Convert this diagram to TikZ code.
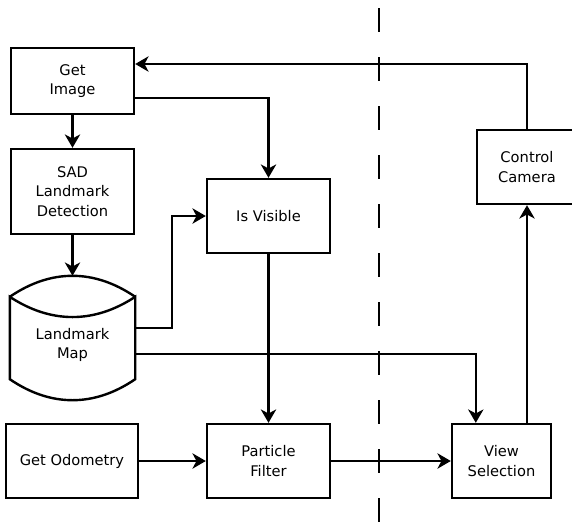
\documentclass[tikz,border=0pt]{standalone}
\usepackage{fontspec}
\setmainfont{DejaVu Sans}
\usetikzlibrary{arrows.meta,calc}

\begin{document}
\begin{tikzpicture}[x=0.75pt,y=-0.75pt,line width=1.8pt,
  box/.style={draw,inner sep=0pt,align=center,font=\fontsize{11}{14.5}\selectfont},
  flow/.style={-{Stealth[length=10pt,width=11.5pt,inset=3pt]}}]
\useasboundingbox (0,0) rectangle (572,522);
\node[box,minimum width=92.25pt,minimum height=49.5pt] (img) at (72.5,81) {Get\\Image};
\node[box,minimum width=92.25pt,minimum height=63.75pt] (sad) at (72.5,191.5) {SAD\\Landmark\\Detection};
\node[box,draw=none,minimum width=92.25pt,minimum height=60pt] (map) at (72.5,338) {};
\node[box,draw=none] (maptxt) at (72.5,345) {Landmark\\Map};
\node[box,minimum width=92.25pt,minimum height=55.5pt] (vis) at (268.5,216) {Is Visible};
\node[box,minimum width=99pt,minimum height=55.5pt] (odo) at (72,461) {Get Odometry};
\node[box,minimum width=92.25pt,minimum height=55.5pt] (pf) at (268.5,461) {Particle\\Filter};
\node[box,minimum width=74.25pt,minimum height=55.5pt] (view) at (501.5,461) {View\\Selection};
\node[box,minimum width=75pt,minimum height=55.5pt] (cam) at (527,167) {Control\\Camera};
% data store outline
\draw (map.north west) .. controls ($(map.north west)+(41,-28)$) and ($(map.north east)+(-41,-28)$) .. (map.north east);
\draw (map.north west) .. controls ($(map.north west)+(41,27)$) and ($(map.north east)+(-41,27)$) .. (map.north east)
  -- (map.south east) .. controls ($(map.south east)+(-41,28)$) and ($(map.south west)+(41,28)$) .. (map.south west) -- cycle;
\draw[dash pattern=on 18pt off 18.75pt] (379,8) -- (379,522);
\draw[flow] (img) -- (sad);
\draw[flow] (sad) -- ($(map.north)+(0,-21)$);
\draw[flow] ($(img.east)+(0,17)$) -| (vis);
\draw[flow] ($(map.east)+(0,-10)$) -- ++(37,0) |- (vis);
\draw[flow] ($(map.east)+(0,16)$) -| ($(view.north west)+(25,0)$);
\draw[flow] (vis) -- (pf);
\draw[flow] (odo) -- (pf);
\draw[flow] (pf) -- (view);
\draw[flow] (cam.south |- view.north) -- (cam.south);
\draw[flow] (cam.north) |- ($(img.east)+(0,-17)$);
\end{tikzpicture}
\end{document}
